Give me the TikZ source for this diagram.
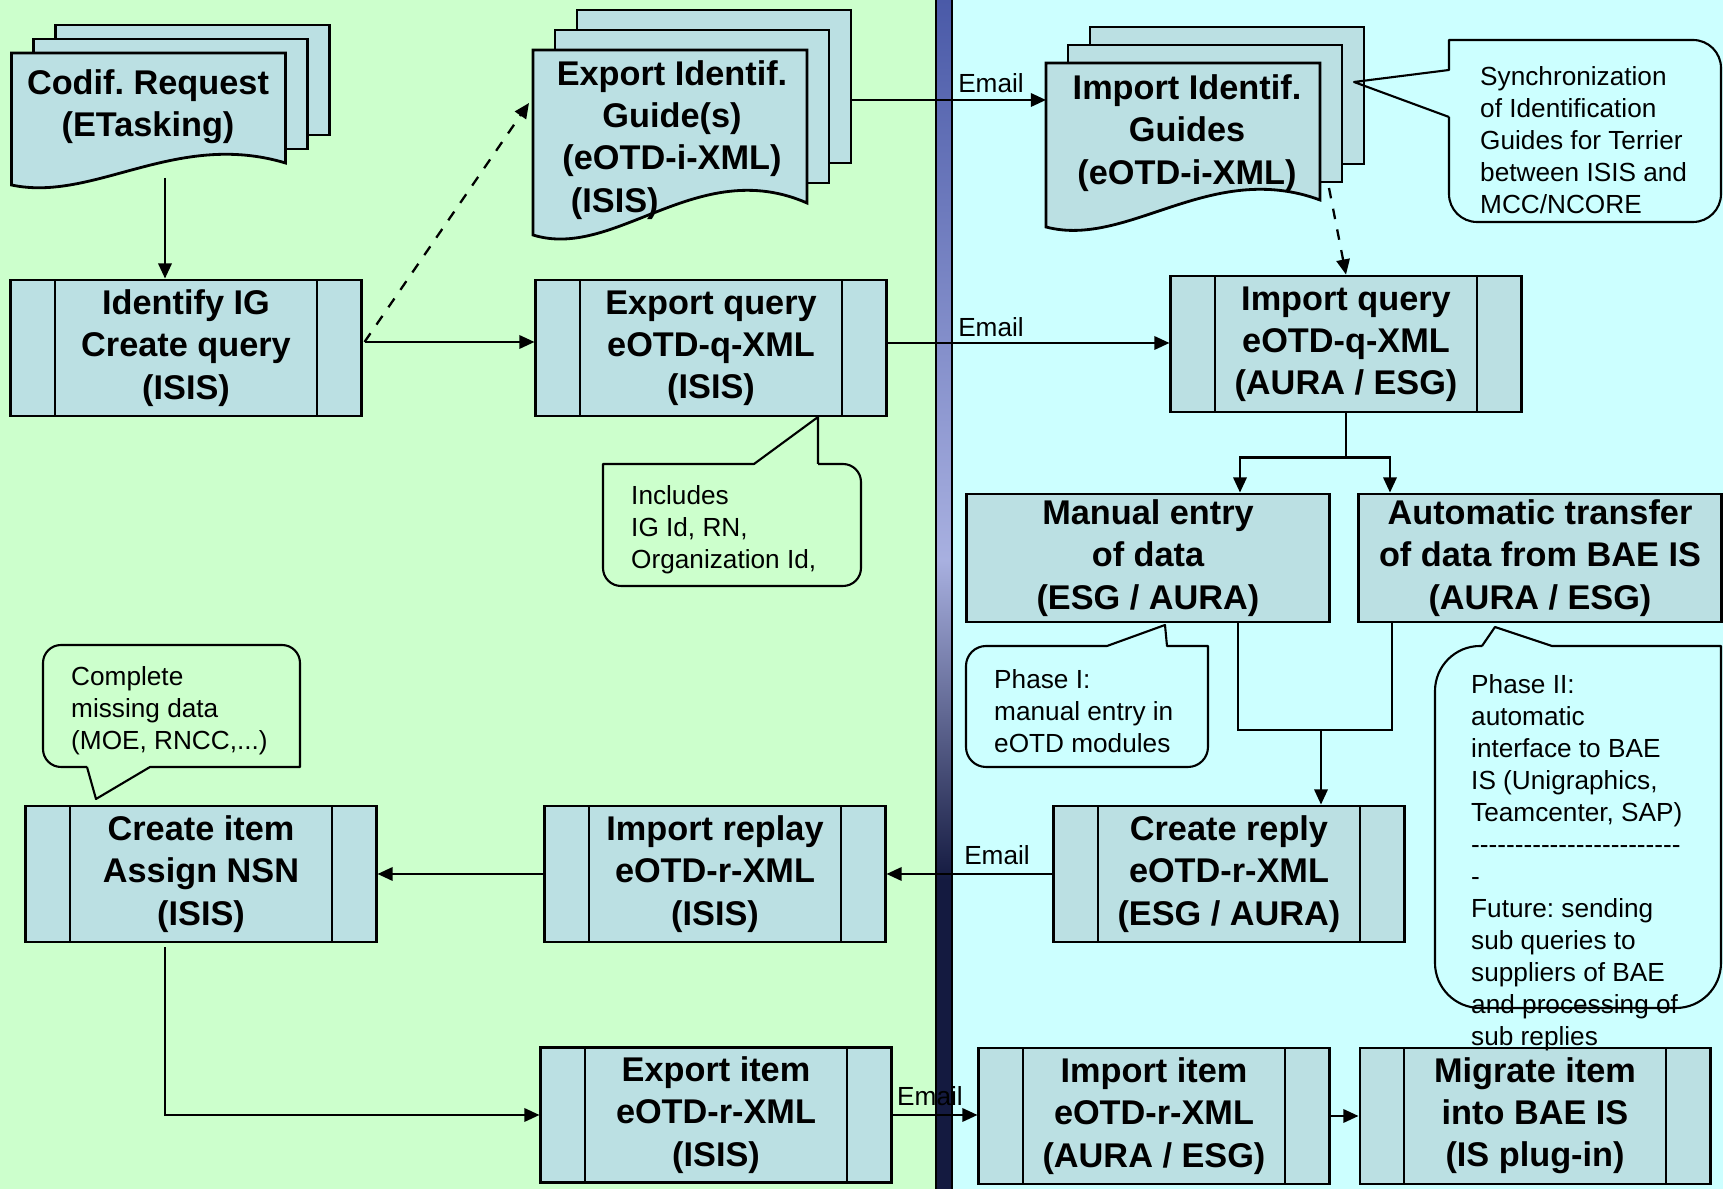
\documentclass[tikz,border=0pt]{standalone}
\usepackage{fontspec}
\setmainfont{Liberation Sans}
\usetikzlibrary{arrows.meta, calc}

\definecolor{leftbg}{HTML}{CCFFCC}
\definecolor{rightbg}{HTML}{CCFFFF}
\definecolor{boxfill}{HTML}{BBE0E3}
\definecolor{barnavy}{HTML}{141A40}
\definecolor{barmid}{HTML}{4A5AA8}
\definecolor{barlight}{HTML}{A8B0E0}

\frenchspacing
\newcommand{\boxfnt}{\fontsize{9.75}{12}\selectfont\bfseries}
\newcommand{\notefnt}{\fontsize{7.45}{9.1}\selectfont}
\newcommand{\dashrow}{\foreach\k in {1,...,24}{\hbox{-}}}

% stack of three pages: left x, top y, width, right end y, left end y, page step
\newcommand{\docstack}[6]{%
  \draw[docpage] ({#1+44},{#2-2*#6}) rectangle ++(#3,{#4-#2});
  \draw[docpage] ({#1+22},{#2-#6}) rectangle ++(#3,{#4-#2});
  \draw[docpage] (#1,#2) -- ({#1+#3},#2) -- ({#1+#3},#4)
    .. controls ({#1+0.6*#3},{#4-1.5*(#5-#4)}) and ({#1+0.3*#3},{#5+0.8*(#5-#4)}) .. (#1,#5) -- cycle;
}

\begin{document}
\begin{tikzpicture}[
    x=0.01cm, y=-0.01cm,
    every node/.style={inner sep=1pt},
    proc/.style={draw, line width=0.8pt, fill=boxfill, minimum width=3.5cm, minimum height=1.36cm, align=center, font=\boxfnt,
      path picture={\draw[line width=0.8pt]
        ([xshift=0.44cm]path picture bounding box.north west) -- ([xshift=0.44cm]path picture bounding box.south west)
        ([xshift=-0.44cm]path picture bounding box.north east) -- ([xshift=-0.44cm]path picture bounding box.south east);}},
    plain/.style={draw, line width=0.8pt, fill=boxfill, minimum width=3.63cm, minimum height=1.28cm, align=center, font=\boxfnt},
    docpage/.style={draw, line width=0.8pt, fill=boxfill},
    doctext/.style={align=center, font=\boxfnt},
    note/.style={line width=0.6pt, line join=round},
    notetext/.style={anchor=west, align=left, font=\notefnt},
    lbl/.style={font=\notefnt},
    arr/.style={-{Triangle[length=4.3pt,width=3.8pt]}, line width=0.65pt},
    dasharr/.style={arr, dashed}
]
\useasboundingbox (0,0) rectangle (1723,1189);

% ===== two lanes and the bar between =====
\fill[leftbg] (0,0) rectangle (936,1189);
\fill[rightbg] (952,0) rectangle (1723,1189);
\shade[top color=barmid, bottom color=barlight] (936,0) rectangle (952,560);
\shade[top color=barlight, bottom color=barnavy] (936,560) rectangle (952,880);
\fill[barnavy] (936,880) rectangle (952,1189);
\draw[line width=0.6pt] (936,0) -- (936,1189) (952,0) -- (952,1189);

% ===== documents =====
\docstack{11.5}{53}{274}{163}{185}{14}
\node[doctext] (codif) at (148,107) {Codif. Request\\(ETasking)};
\docstack{533}{50}{274}{203}{235}{20}
\node[doctext] (expdoc) at (672,140) {Export Identif.\\Guide(s)\\(eOTD-i-XML)\\\makebox[2.02cm][l]{(ISIS)}};
\docstack{1046}{63}{274}{200}{227}{18}
\node[doctext] (impdoc) at (1187,133) {Import Identif.\\Guides\\(eOTD-i-XML)};

% ===== process steps =====
\node[proc] (identify) at (186,348) {Identify IG\\Create query\\(ISIS)};
\node[proc] (exportq) at (711,348) {Export query\\eOTD-q-XML\\(ISIS)};
\node[proc] (importq) at (1346,344) {Import query\\eOTD-q-XML\\(AURA / ESG)};
\node[plain] (manual) at (1148,558) {Manual entry\\of data\\(ESG / AURA)};
\node[plain] (automatic) at (1540,558) {Automatic transfer\\of data from BAE IS\\(AURA / ESG)};
\node[proc] (createreply) at (1229,874) {Create reply\\eOTD-r-XML\\(ESG / AURA)};
\node[proc, minimum width=3.4cm] (importreplay) at (715,874) {Import replay\\eOTD-r-XML\\(ISIS)};
\node[proc] (createitem) at (201,874) {Create item\\Assign NSN\\(ISIS)};
\node[proc, minimum height=1.35cm] (exportitem) at (716,1115) {Export item\\eOTD-r-XML\\(ISIS)};
\node[proc] (importitem) at (1154,1116) {Import item\\eOTD-r-XML\\(AURA / ESG)};
\node[proc] (migrate) at (1535,1116) {Migrate item\\into BAE IS\\(IS plug-in)};

% ===== connectors =====
\coordinate (codifout) at (165,178);
\coordinate (expdocin) at (529,103);
\coordinate (expdocout) at (850,100);
\coordinate (impdocin) at (1046,100);
\coordinate (impdocout) at (1329,188);
\coordinate (merge) at (1321,730);
\coordinate (idout) at ($(identify.east)+(2,-6)$);
\coordinate (exqout) at ($(exportq.east)+(0,-5)$);

\draw[arr] (codifout) -- (codifout |- identify.north);
\draw[dasharr] (idout) -- (expdocin);
\draw[arr] (idout) -- (idout -| exportq.west);
\draw[arr] (expdocout) -- (impdocin);
\draw[arr] (exqout) -- (exqout -| importq.west);
\draw[dasharr] (impdocout) -- (importq.north);
\draw (importq.south) -- ++(0,44) coordinate (split);
\draw[arr] (split) -| ($(manual.north)+(92,0)$);
\draw[arr] (split) -| ($(automatic.north)+(-150,0)$);
\draw[line width=0.65pt] ($(manual.south)+(90,0)$) |- (merge) -| ($(automatic.south)+(-148,0)$);
\draw[arr] (merge) -- (merge |- createreply.north);
\draw[arr] (createreply.west) -- (importreplay.east);
\draw[arr] (importreplay.west) -- (createitem.east);
\draw[arr] ($(createitem.south)+(-36,4)$) |- (exportitem.west);
\draw[arr] (exportitem.east) -- (exportitem.east -| importitem.west);
\draw[arr] (importitem.east) -- (migrate.west);

\node[lbl] (email1) at (991,83) {Email};
\node[lbl] (email2) at (991,327) {Email};
\node[lbl] (email3) at (997,855) {Email};
\node[lbl] (email4) at (930,1096) {Email};

% ===== callouts =====
\draw[note] (1449,117) -- (1354,82) -- (1449,70) -- (1449,40) [rounded corners=0.28cm] -- (1721,40) -- (1721,222) -- (1449,222) -- (1449,117);
\node[notetext] (syncnote) at (1476,140) {Synchronization\\of Identification\\Guides for Terrier\\between ISIS and\\MCC/NCORE};

\draw[note] (818,464) -- (818,417) -- (754,464) -- (603,464) [rounded corners=0.18cm] -- (603,586) -- (861,586) -- (861,464) -- (818,464);
\node[notetext] (inclnote) at (627,530) {Includes\\IG Id, RN,\\Organization Id,};

\draw[note] (87,767) -- (96,799) -- (150,767) -- (300,767) [rounded corners=0.18cm] -- (300,645) -- (43,645) -- (43,767) -- (87,767);
\node[notetext] (complnote) at (67,711) {Complete\\missing data\\(MOE, RNCC,...)};

\draw[note] (1107,646) -- (1165,625) -- (1167,646) -- (1208,646) [rounded corners=0.2cm] -- (1208,767) -- (966,767) -- (966,646) -- (1107,646);
\node[notetext] (phase1note) at (990,711) {Phase I:\\manual entry in\\eOTD modules};

\draw[note] (1482,646) -- (1495,627) -- (1552,646) -- (1721,646) [rounded corners=0.45cm] -- (1721,1008) -- (1435,1008) -- (1435,646) -- (1482,646);
\node[notetext] (phase2note) at (1467,863) {Phase II:\\automatic\\interface to BAE\\IS (Unigraphics,\\Teamcenter, SAP)\\\dashrow\\-\\Future: sending\\sub queries to\\suppliers of BAE\\and processing of\\sub replies};

\end{tikzpicture}
\end{document}
